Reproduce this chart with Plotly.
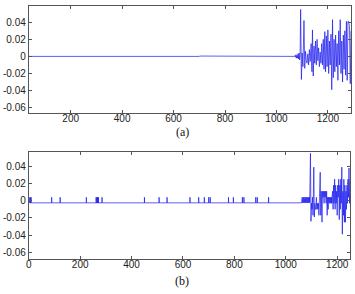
import plotly.graph_objects as go

# ---------------- data (a) ----------------
xa = [37, 300, 302, 700, 702, 1000, 1002, 1070,
      1072, 1074, 1076, 1078, 1080, 1082, 1084, 1086, 1088, 1090, 1092,
      1094, 1097, 1100, 1103, 1107, 1110, 1113, 1116, 1119, 1122, 1125, 1128, 1131,
      1135, 1138, 1140, 1143, 1146, 1149, 1152, 1155, 1158, 1161, 1164, 1167,
      1170, 1173, 1176, 1179, 1182, 1185, 1188, 1191, 1194, 1197, 1200, 1203,
      1206, 1209, 1212, 1215, 1218, 1221, 1224, 1227, 1230, 1233, 1236, 1239,
      1242, 1245, 1248, 1251, 1254, 1257, 1260, 1263, 1266, 1269, 1272, 1275,
      1278, 1281, 1284, 1287, 1290]
ya = [0.0, 0.0, -0.0005, 0.0, 0.0004, 0.0, -0.0005, 0.0,
      0.001, -0.001, 0.002, -0.002, 0.001, -0.002, 0.003, -0.003, 0.004, -0.004, 0.002,
      0.055, -0.027, 0.004, -0.012, 0.042, -0.014, 0.006, -0.005, -0.008, 0.003, -0.010, 0.008, -0.006,
      0.015, -0.018, 0.031, -0.023, 0.012, -0.008, 0.018, -0.010, 0.020, -0.005, 0.010, -0.012,
      0.005, -0.008, 0.015, -0.010, 0.020, -0.015, 0.029, -0.018, 0.024, -0.012, 0.031, -0.020,
      0.018, -0.010, 0.026, -0.039, 0.043, -0.025, 0.020, -0.018, 0.025, -0.012, 0.015, -0.028,
      0.030, -0.010, 0.043, -0.020, 0.018, -0.030, 0.025, -0.015, 0.030, -0.022, 0.041, -0.028,
      0.041, 0.041, 0.035, -0.032, 0.030]

# ---------------- data (b) ----------------
b_base = -0.0025
b_pulse_top = 0.004
b_pulses = [1, 3, 6, 9, 89, 122, 224, 262, 265, 268, 271, 285, 450, 507, 538,
            627, 661, 683, 700, 706, 777, 796, 831, 837, 883, 889, 933]
xb_tail = [1062, 1063, 1064, 1065, 1066, 1067, 1068, 1069, 1070, 1071, 1072, 1073,
           1074, 1075, 1076, 1077, 1078, 1079, 1080, 1081, 1082, 1083, 1084, 1085,
           1086, 1087, 1088, 1089, 1090, 1091, 1092, 1093,
           1096, 1098, 1100, 1102, 1104, 1106, 1109, 1111, 1113, 1115, 1117, 1119,
           1121, 1123, 1125, 1127, 1129, 1131, 1134, 1136, 1138, 1141, 1143, 1145,
           1147, 1149, 1151, 1153, 1155, 1157, 1159, 1161, 1163, 1165,
           1166, 1167, 1168, 1169, 1170, 1171, 1172, 1173, 1174, 1175, 1176, 1177,
           1178, 1179, 1180, 1182, 1184, 1186, 1188, 1190, 1192, 1194, 1196, 1198,
           1200, 1202, 1204, 1206, 1208, 1210, 1212, 1214, 1216, 1218, 1220, 1222,
           1224, 1226, 1228, 1230, 1232, 1234, 1236, 1238, 1240, 1242, 1244, 1246,
           1248, 1250]
yb_tail = [0.004, -0.0025, 0.004, -0.0025, 0.004, -0.0025, 0.004, -0.0025, 0.004, -0.0025, 0.004, -0.0025,
           0.004, -0.0025, 0.004, -0.0025, 0.004, -0.0025, 0.004, -0.0025, 0.004, -0.0025, 0.004, -0.0025,
           0.004, -0.0025, 0.004, -0.0025, 0.004, -0.0025, 0.004, -0.0025,
           0.055, -0.024, -0.003, -0.010, 0.004, -0.017, 0.039, -0.019, -0.003, -0.010, -0.010, 0.004,
           -0.010, -0.003, -0.010, -0.003, -0.017, 0.004, 0.033, -0.017, 0.011, -0.025, 0.011, 0.004,
           0.011, -0.003, 0.011, 0.004, 0.011, -0.003, 0.011, -0.017, 0.004, -0.010,
           0.004, -0.003, 0.004, -0.003, 0.004, -0.003, 0.004, -0.003, 0.004, -0.003, 0.004, -0.003,
           0.004, -0.003, 0.004, 0.011, -0.010, 0.018, -0.003, 0.025, -0.010, 0.018, -0.003, 0.011,
           -0.017, 0.018, 0.004, 0.025, -0.022, 0.018, -0.010, 0.025, -0.003, 0.039, -0.039, 0.011,
           -0.017, 0.025, -0.025, 0.018, -0.025, 0.011, -0.010, 0.018, -0.003, 0.025, 0.004, 0.038,
           -0.003, 0.025]

ytick_vals = [0.04, 0.02, 0, -0.02, -0.04, -0.06]
ytick_text = ["0.04", "0.02", "0", "-0.02", "-0.04", "-0.06"]
xa_ticks = [200, 400, 600, 800, 1000, 1200]
xb_ticks = [0, 200, 400, 600, 800, 1000, 1200]

# build pulse series for (b)
xb, yb = [0], [b_base]
for p in b_pulses:
    xb += [p, p, p + 0.4, p + 0.4]
    yb += [b_base, b_pulse_top, b_pulse_top, b_base]
xb += [1061]
yb += [b_base]
xb += xb_tail
yb += yb_tail

W, H = 355, 294
line = dict(color="#1a1aee", width=0.7)

fig = go.Figure()
fig.add_trace(go.Scatter(x=xa, y=ya, mode="lines", line=line, xaxis="x", yaxis="y",
                         showlegend=False, hoverinfo="skip"))
fig.add_trace(go.Scatter(x=xb, y=yb, mode="lines", line=line, xaxis="x2", yaxis="y2",
                         showlegend=False, hoverinfo="skip"))

axstyle = dict(showline=True, linecolor="#555555", linewidth=1, mirror="ticks",
               ticks="inside", ticklen=3, tickcolor="#555555", tickwidth=1,
               showgrid=False, zeroline=False,
               tickfont=dict(family="Liberation Sans, Arial", size=10, color="#222222"))

cap_font = dict(family="Liberation Serif, Times New Roman", size=12, color="#111111")

fig.update_layout(
    width=W, height=H, margin=dict(l=0, r=0, t=0, b=0),
    paper_bgcolor="white", plot_bgcolor="white",
    xaxis=dict(domain=[26 / W, 351 / W], range=[37, 1290], anchor="y",
               tickvals=xa_ticks, ticklabelstandoff=-4, **axstyle),
    yaxis=dict(domain=[1 - 113.3 / H, 1 - 6 / H], range=[-0.0666, 0.059], anchor="x",
               tickvals=ytick_vals, ticktext=ytick_text, **axstyle),
    xaxis2=dict(domain=[26 / W, 350 / W], range=[0, 1250], anchor="y2",
                tickvals=xb_ticks, ticklabelstandoff=-4, **axstyle),
    yaxis2=dict(domain=[1 - 259 / H, 1 - 151.5 / H], range=[-0.0678, 0.0572], anchor="x2",
                tickvals=ytick_vals, ticktext=ytick_text, **axstyle),
    annotations=[
        dict(text="(a)", x=181 / W, y=1 - 132 / H, xref="paper", yref="paper",
             xanchor="center", yanchor="middle", showarrow=False, font=cap_font),
        dict(text="(b)", x=181 / W, y=1 - 281 / H, xref="paper", yref="paper",
             xanchor="center", yanchor="middle", showarrow=False, font=cap_font),
    ],
)

fig.write_html("out.html")
